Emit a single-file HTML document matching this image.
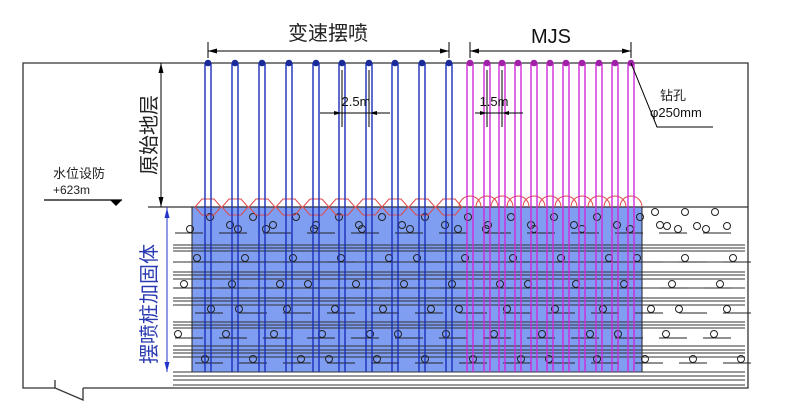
<!DOCTYPE html>
<html><head><meta charset="utf-8">
<style>
html,body{margin:0;padding:0;background:#fff;}
svg{display:block;}
text{font-family:"Liberation Sans","Noto Sans CJK SC",sans-serif;}
</style></head>
<body>
<svg id="s" width="790" height="412" viewBox="0 0 790 412" xmlns="http://www.w3.org/2000/svg">
<rect width="790" height="412" fill="#fff"/>
<!-- outer box -->
<polyline points="55,388 23,388 23,63 748,63 748,388 83,388" fill="none" stroke="#333" stroke-width="1.3"/>
<polyline points="55,380 55,388 83,400 83,388" fill="#fff" stroke="#333" stroke-width="1.3"/>
<!-- layer line -->
<line x1="148" y1="207" x2="748" y2="207" stroke="#333" stroke-width="1.3"/>
<!-- blue fill -->
<rect x="192" y="207" width="450" height="165" fill="#7f9ef2" stroke="#222" stroke-width="1"/>
<g id="strata"></g>
<g id="cols"></g>
<!-- top dims -->
<line x1="208" y1="51" x2="449" y2="51" stroke="#000" stroke-width="1"/>
<line x1="208" y1="42" x2="208" y2="58" stroke="#000"/>
<line x1="449" y1="42" x2="449" y2="58" stroke="#000"/>
<polygon points="208,51 217,48.5 217,53.5" fill="#000"/>
<polygon points="449,51 440,48.5 440,53.5" fill="#000"/>
<text x="328" y="40" font-size="20" text-anchor="middle" fill="#222">变速摆喷</text>
<line x1="470" y1="51" x2="631" y2="51" stroke="#000" stroke-width="1"/>
<line x1="470" y1="42" x2="470" y2="58" stroke="#000"/>
<line x1="631" y1="42" x2="631" y2="58" stroke="#000"/>
<polygon points="470,51 479,48.5 479,53.5" fill="#000"/>
<polygon points="631,51 622,48.5 622,53.5" fill="#000"/>
<text x="551" y="43" font-size="20" text-anchor="middle" fill="#111">MJS</text>
<!-- left dims -->
<line x1="161" y1="63" x2="161" y2="207" stroke="#000"/>
<polygon points="161,63 158.5,73 163.5,73" fill="#000"/>
<polygon points="161,207 158.5,197 163.5,197" fill="#000"/>
<text transform="translate(156,135) rotate(-90)" font-size="20" text-anchor="middle" fill="#222">原始地层</text>
<line x1="167" y1="207" x2="167" y2="372" stroke="#2233cc"/>
<polygon points="167,208 164.5,218 169.5,218" fill="#2233cc"/>
<polygon points="167,372 164.5,362 169.5,362" fill="#2233cc"/>
<text transform="translate(156,304) rotate(-90)" font-size="20" text-anchor="middle" fill="#2a3ab0">摆喷桩加固体</text>
<!-- water -->
<text x="53" y="178" font-size="13" fill="#222">水位设防</text>
<text x="53" y="194" font-size="12" fill="#222" font-family="Liberation Serif">+623m</text>
<line x1="44" y1="200" x2="122" y2="200" stroke="#000" stroke-width="1.2"/>
<polygon points="110,200 122,200 116,206" fill="#000"/>
<!-- drill label -->
<polyline points="631,63 657,127 713,127" fill="none" stroke="#000"/>
<text x="660" y="100" font-size="13" fill="#222">钻孔</text>
<text x="650" y="117" font-size="13" fill="#111">φ250mm</text>
<!-- small dims -->
<line x1="320" y1="113" x2="390" y2="113" stroke="#000"/>
<polygon points="342,113 334,111 334,115" fill="#000"/>
<polygon points="369,113 377,111 377,115" fill="#000"/>
<text x="356" y="106" font-size="13" text-anchor="middle" fill="#111">2.5m</text>
<line x1="475" y1="113" x2="523" y2="113" stroke="#000"/>
<polygon points="487,113 480,111 480,115" fill="#000"/>
<polygon points="502,113 509,111 509,115" fill="#000"/>
<text x="494" y="106" font-size="13" text-anchor="middle" fill="#111">1.5m</text>
</svg>
<script>
(function(){
var NS="http://www.w3.org/2000/svg";
function el(p,t,a){var e=document.createElementNS(NS,t);for(var k in a)e.setAttribute(k,a[k]);p.appendChild(e);return e;}
var st=document.getElementById('strata'),cg=document.getElementById('cols');
var ys=[245,248,251,262,272,275,279,288,298,301,305,322,325,328,346,350,353,357,376,380,385];
ys.forEach(function(y){el(st,'line',{x1:173,y1:y,x2:745,y2:y,stroke:'#333','stroke-width':1});});
el(st,'line',{x1:173,y1:372,x2:745,y2:372,stroke:'#333','stroke-width':1});
var segY=[233,262,288,313,338,363];
segY.forEach(function(y,i){for(var x=175+(i%2)*20;x<740;x+=44){el(st,'line',{x1:x,y1:y,x2:x+28,y2:y,stroke:'#222','stroke-width':1});
 el(st,'circle',{cx:x+((i*7+x)%20),cy:y-4,r:3.5,fill:'none',stroke:'#222','stroke-width':1});}});
for(var x=655;x<745;x+=30){el(st,'circle',{cx:x,cy:212,r:3.5,fill:'none',stroke:'#222'});el(st,'circle',{cx:x+12,cy:226,r:3.5,fill:'none',stroke:'#222'});}
for(var x=200;x<640;x+=43){el(st,'circle',{cx:x+10,cy:217,r:3.5,fill:'none',stroke:'#222'});el(st,'circle',{cx:x+30,cy:225,r:3.5,fill:'none',stroke:'#222'});}
var blue=[208,235,262,289,316,342,369,395,422,449];
var pink=[470,487,502,518,534,550,566,582,599,615,631];
// red lenses
for(var i=0;i<blue.length;i++){var a=blue[i]-13,b=blue[i]+13;
 el(cg,'path',{d:'M'+a+' 207 L'+(a+7)+' 199 L'+(b-7)+' 199 L'+b+' 207 L'+(b-7)+' 215 L'+(a+7)+' 215 Z',fill:'none',stroke:'#e04848','stroke-width':1});}
pink.forEach(function(x){el(cg,'path',{d:'M'+(x-11)+' 207 A11 11 0 0 1 '+(x+11)+' 207',fill:'none',stroke:'#e04848','stroke-width':1});});
blue.forEach(function(x){
 el(cg,'line',{x1:x-3,y1:63,x2:x-3,y2:372,stroke:'#1a2fb8','stroke-width':1.4});
 el(cg,'line',{x1:x+3,y1:63,x2:x+3,y2:372,stroke:'#1a2fb8','stroke-width':1.4});
 el(cg,'circle',{cx:x,cy:63,r:3.3,fill:'#1a2a99'});});
pink.forEach(function(x){
 el(cg,'line',{x1:x-3,y1:63,x2:x-3,y2:372,stroke:'#d02ad8','stroke-width':1.4});
 el(cg,'line',{x1:x+3,y1:63,x2:x+3,y2:372,stroke:'#d02ad8','stroke-width':1.4});
 el(cg,'circle',{cx:x,cy:63,r:3.3,fill:'#a020a8'});});
[342,369,487,502].forEach(function(x){el(cg,'line',{x1:x,y1:70,x2:x,y2:127,stroke:'#000','stroke-width':1});});
})();
</script>
</body></html>
